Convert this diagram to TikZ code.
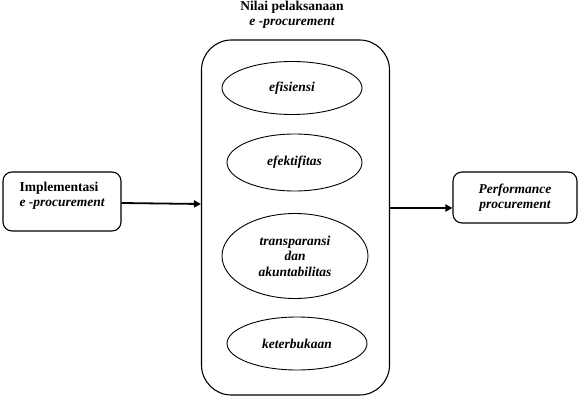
\documentclass[tikz,border=0pt]{standalone}
\usepackage{fontspec}
\setmainfont{Liberation Serif}
\usetikzlibrary{arrows.meta,shapes.geometric}
\begin{document}
\begin{tikzpicture}[x=1pt,y=-1pt,
  txt/.style={font=\fontsize{13.5}{15.5}\selectfont\bfseries},
  rbox/.style={draw,line width=1.1pt,rounded corners=9pt,inner sep=0pt},
  oval/.style={draw,ellipse,line width=0.9pt,align=center,inner sep=0pt,font=\fontsize{13.5}{15.5}\selectfont\bfseries\itshape},
  conn/.style={line width=1.8pt,-{Triangle[length=7pt,width=7pt]}}]
\useasboundingbox (0,0) rectangle (585,409);
\node[rbox,minimum width=188pt,minimum height=355pt,rounded corners=30pt] (big) at (295.5,217.5) {};
\node[txt,align=center,inner sep=0pt] (title) at (292,15) {Nilai pelaksanaan\\\itshape e -procurement};
\node[oval,minimum width=140pt,minimum height=53pt] (e1) at (292,88) {efisiensi};
\node[oval,minimum width=135pt,minimum height=57pt] (e2) at (294.5,162.5) {efektifitas};
\node[oval,minimum width=146pt,minimum height=85pt] (e3) at (295,256) {transparansi\\dan\\akuntabilitas};
\node[oval,minimum width=140pt,minimum height=53pt] (e4) at (297,343.5) {keterbukaan};
\node[rbox,minimum width=118pt,minimum height=59pt] (imp) at (62,201.5) {};
\node[txt,align=left,anchor=west] (impt) at (16,196) {Implementasi\\\itshape e -procurement};
\node[rbox,minimum width=124pt,minimum height=51pt,align=center,font=\fontsize{13.5}{15.5}\selectfont\bfseries\itshape] (perf) at (515,197.5) {Performance\\procurement};
\draw[conn] (imp.east |- 0,203) -- (big.west |- 0,204);
\draw[conn] (big.east |- 0,208) -- (perf.west |- 0,208);
\end{tikzpicture}
\end{document}
